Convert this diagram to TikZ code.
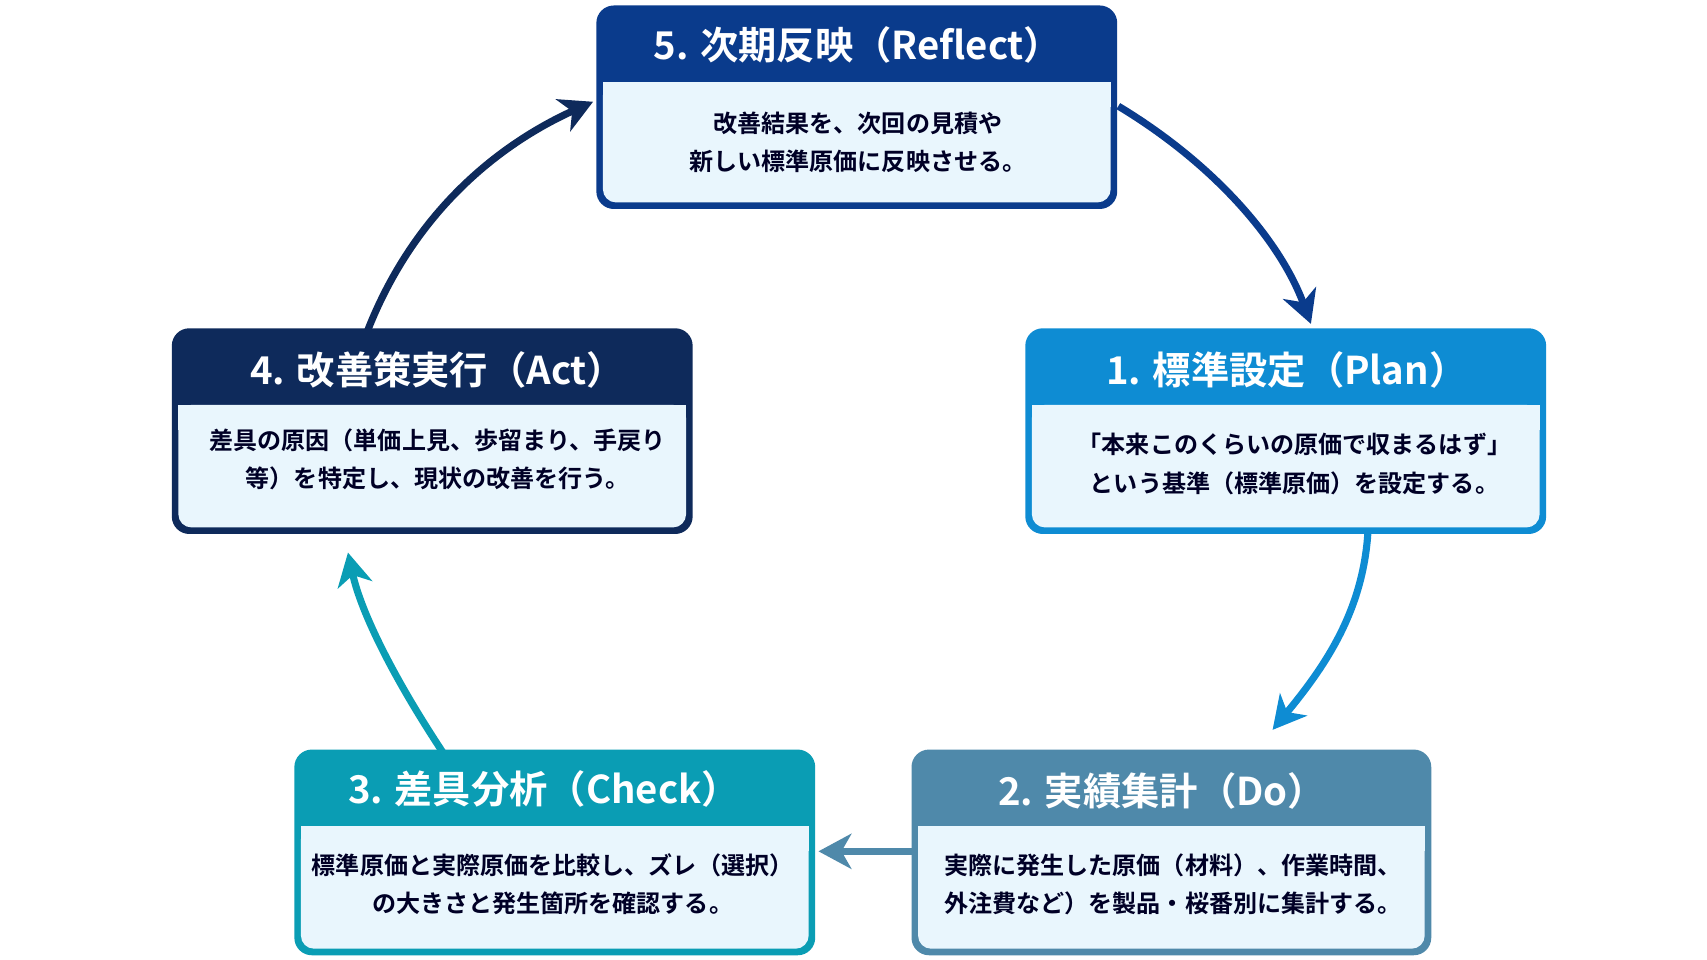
\documentclass[tikz,border=0pt]{standalone}
\usepackage{fontspec}
\setmainfont{Noto Sans CJK JP}[BoldFont={* Bold}]
\usetikzlibrary{arrows.meta}
\definecolor{cA}{HTML}{0A3B8C}
\definecolor{cB}{HTML}{0E8CD3}
\definecolor{cC}{HTML}{4F89AA}
\definecolor{cD}{HTML}{0A9DB4}
\definecolor{cE}{HTML}{0E2A5B}
\definecolor{bodyc}{HTML}{E9F6FD}
\tikzset{
 conn/.style={line width=6.5pt,-{Stealth[length=30pt,width=32pt,inset=9pt]}},
 ttl/.style={text=white,font=\bfseries\fontsize{35}{40}\selectfont,anchor=center},
 bdy/.style={font=\bfseries\fontsize{22}{35}\selectfont,align=center,anchor=center,text=black!85!blue}
}
\newcommand\card[6]{% name, x1,y1,x2,y2, color
 \fill[#6,rounded corners=16pt] (#2-3,#3-3) rectangle (#4+3,#5+3);
 \fill[bodyc,rounded corners=12pt] (#2+3,#3+67) rectangle (#4-3,#5-3);
 \fill[bodyc] (#2+3,#3+67) rectangle (#4-3,#3+90);
 \coordinate (#1-n) at ({(#2+#4)/2},#3-3);
 \coordinate (#1-s) at ({(#2+#4)/2},#5+3);
}
\begin{document}
\begin{tikzpicture}[x=1pt,y=-1pt]
\useasboundingbox[fill=white] (0,0) rectangle (1560,877);
\card{b5}{548}{8}{1018}{188}{cA}
\card{b1}{940}{303}{1410}{485}{cB}
\card{b4}{160}{303}{630}{485}{cE}
\card{b3}{272}{688}{742}{870}{cD}
\card{b2}{836}{688}{1305}{870}{cC}
\node[ttl] (t5) at (784,41) {5. 次期反映（Reflect）};
\node[bdy] (d5) at (784,130) {改善結果を、次回の見積や\\新しい標準原価に反映させる。};
\node[ttl] (t1) at (1176,338) {1. 標準設定（Plan）};
\node[bdy] (d1) at (1183,424) {「本来このくらいの原価で収まるはず」\\という基準（標準原価）を設定する。};
\node[ttl] (t4) at (400,338) {4. 改善策実行（Act）};
\node[bdy] (d4) at (400,420) {差具の原因（単価上見、歩留まり、手戻り\\等）を特定し、現状の改善を行う。};
\node[ttl] (t3) at (497,721) {3. 差具分析（Check）};
\node[bdy] (d3) at (505,808) {標準原価と実際原価を比較し、ズレ（選択）\\の大きさと発生箇所を確認する。};
\node[ttl] (t2) at (1062,723) {2. 実績集計（Do）};
\node[bdy] (d2) at (1072,808) {実際に発生した原価（材料）、作業時間、\\外注費など）を製品・桜番別に集計する。};
\coordinate (a5s) at (1022,97);
\coordinate (a5e) at (1198,296);
\draw[conn,cA] (a5s) .. controls (1110,150) and (1170,220) .. (a5e);
\coordinate (a1s) at (1250,488);
\coordinate (a1e) at (1163,667);
\draw[conn,cB] (a1s) .. controls (1245,560) and (1210,610) .. (a1e);
\coordinate (a2s) at (836,778);
\coordinate (a2e) at (748,778);
\draw[conn,cC] (a2s) -- (a2e);
\coordinate (a3s) at (405,688);
\coordinate (a3e) at (318,505);
\draw[conn,cD] (a3s) .. controls (360,620) and (330,560) .. (a3e);
\coordinate (a4s) at (336,302);
\coordinate (a4e) at (542,93);
\draw[conn,cE] (a4s) .. controls (380,190) and (460,130) .. (a4e);
\end{tikzpicture}
\end{document}
